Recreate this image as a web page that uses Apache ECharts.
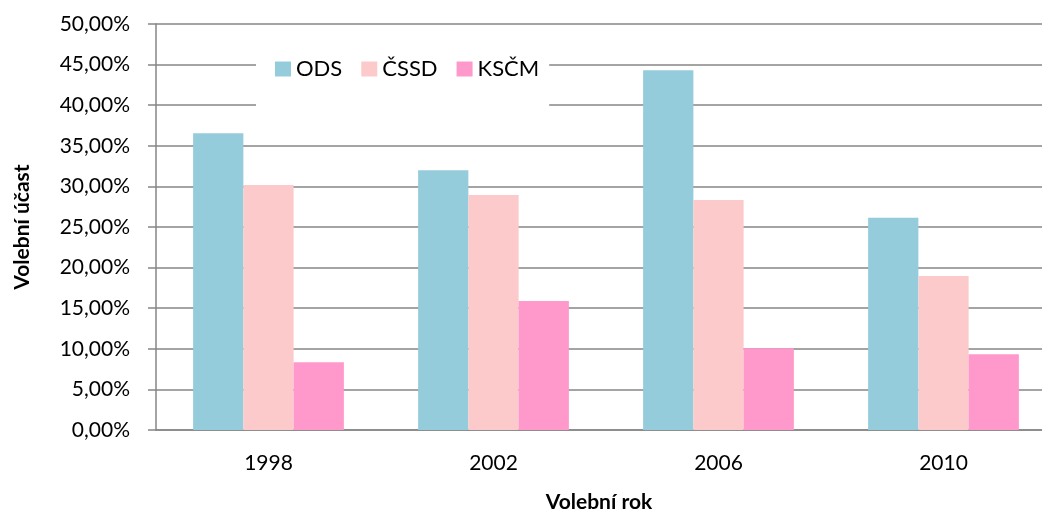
<!DOCTYPE html>
<html>
<head>
<meta charset="utf-8">
<script src="https://cdn.jsdelivr.net/npm/echarts@6/dist/echarts.min.js"></script>
<style>
  html, body { margin: 0; padding: 0; background: #fff; }
  #chart { width: 1042px; height: 515px; }
</style>
</head>
<body>
<div id="chart"></div>
<script>
// data (percent)
const years = ['1998', '2002', '2006', '2010'];
const ods = [36.56, 31.98, 44.30, 26.15];
const cssd = [30.17, 28.94, 28.33, 18.97];
const kscm = [8.34, 15.89, 10.06, 9.32];

const font = 'Lato, "Open Sans", sans-serif';
const gray = '#868686';

let mycharts = echarts.init(document.getElementById('chart'));
mycharts.setOption({
    animation: false,
    textStyle: { fontFamily: font },
    legend: {
        left: 256,
        top: 46,
        padding: [12, 10, 38, 19],
        backgroundColor: '#fff',
        itemWidth: 16,
        itemHeight: 15,
        itemGap: 19,
        icon: 'rect',
        textStyle: { fontSize: 22, color: '#000', fontFamily: font }
    },
    // the plot area runs a little past the right edge in the reference
    grid: { left: 156, right: -14, top: 24, bottom: 85, outerBoundsMode: 'none' },
    xAxis: {
        type: 'category',
        data: years,
        name: 'Volební rok',
        nameLocation: 'middle',
        nameGap: 62,
        nameTextStyle: { fontSize: 21, fontWeight: 'bold', color: '#000', padding: [0, 14, 0, 0] },
        axisLine: { lineStyle: { color: gray, width: 1.5 } },
        axisTick: { show: false },
        axisLabel: { fontSize: 21, color: '#000', margin: 23 }
    },
    yAxis: {
        type: 'value',
        min: 0,
        max: 50,
        interval: 5,
        name: 'Volební účast',
        nameLocation: 'middle',
        nameGap: 123,
        nameTextStyle: { fontSize: 21, fontWeight: 'bold', color: '#000' },
        axisLine: { show: true, lineStyle: { color: gray, width: 1.5 } },
        axisTick: { show: true, length: 8, lineStyle: { color: gray, width: 1.5 } },
        splitLine: { lineStyle: { color: gray, width: 1.5 } },
        axisLabel: {
            fontSize: 21,
            color: '#000',
            margin: 26,
            formatter: v => v.toFixed(2).replace('.', ',') + '%'
        }
    },
    series: [
        { name: 'ODS', type: 'bar', data: ods, barGap: '0%', barCategoryGap: '33%', itemStyle: { color: '#95ccdc' } },
        { name: 'ČSSD', type: 'bar', data: cssd, itemStyle: { color: '#fccacb' } },
        { name: 'KSČM', type: 'bar', data: kscm, itemStyle: { color: '#ff99cc' } }
    ]
});
</script>
</body>
</html>
